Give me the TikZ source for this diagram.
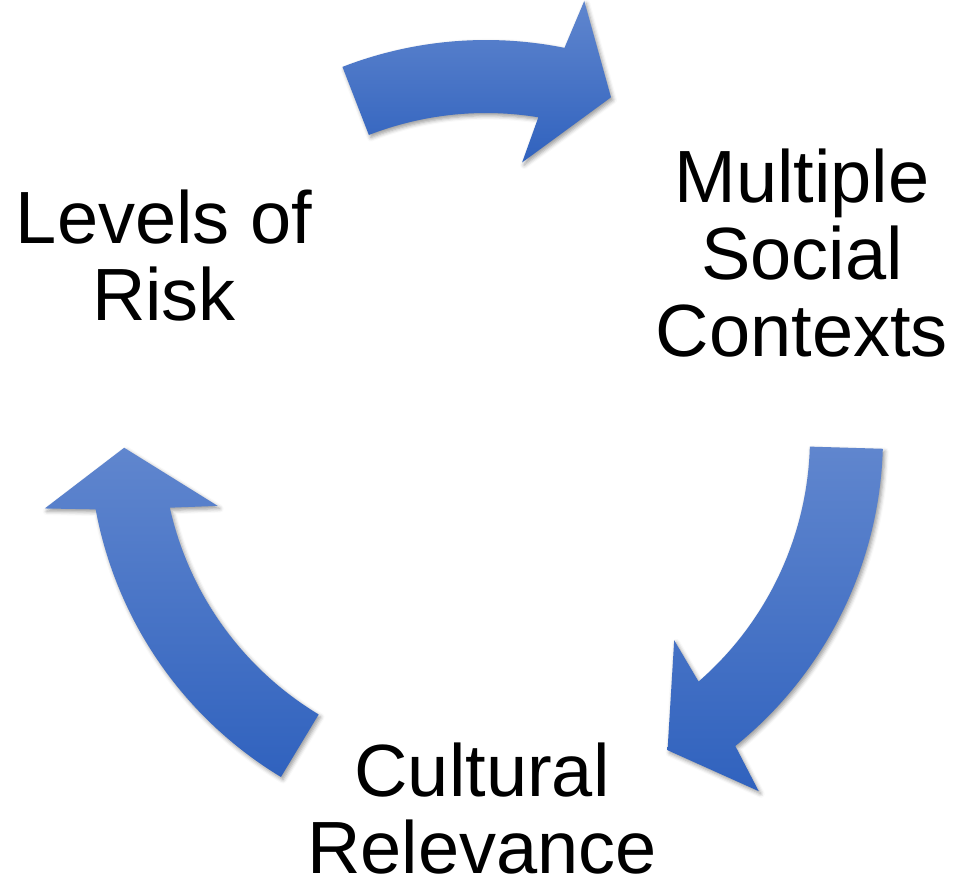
\documentclass[tikz,border=0pt]{standalone}
\usepackage{fontspec}
\setmainfont{Liberation Sans}
\usetikzlibrary{calc,shadows.blur}
\definecolor{arrowtop}{RGB}{96,134,206}
\definecolor{arrowbot}{RGB}{48,98,190}
\tikzset{
  arrowfill/.style={top color=arrowtop, bottom color=arrowbot, draw=none,
    blur shadow={shadow xshift=1.5pt, shadow yshift=-2pt, shadow blur radius=3pt, shadow opacity=40}},
  labeltext/.style={font=\fontsize{55.5pt}{57.75pt}\selectfont, align=center, inner sep=0pt, anchor=base}
}
% #1 tail angle, #2 tip angle
\newcommand\cyclearrow[2]{%
  \path[arrowfill] ($(c)+({#1}:397)$)
    arc[start angle={#1}, end angle={#2+8.8}, radius=297.75pt]
    -- ($(c)+({#2+7.5}:447)$)
    -- ($(c)+({#2}:362)$)
    -- ($(c)+({#2+12.7}:277)$)
    -- ($(c)+({#2+10.9}:324)$)
    arc[start angle={#2+10.9}, end angle={#1}, radius=243pt]
    -- cycle;
}
\begin{document}
\begin{tikzpicture}[x=0.75pt, y=0.75pt]
  \useasboundingbox (0,0) rectangle (953,-876);
  \coordinate (c) at (486,-437);
  \cyclearrow{111.2}{69.8}
  \cyclearrow{-1.7}{-59.9}
  \cyclearrow{238.9}{181.7}
  \node[labeltext] (risk) at (164,-320) {Levels of\\Risk};
  \node[labeltext] (social) at (802,-356) {Multiple\\Social\\Contexts};
  \node[labeltext] (culture) at (482,-873) {Cultural\\Relevance};
\end{tikzpicture}
\end{document}
